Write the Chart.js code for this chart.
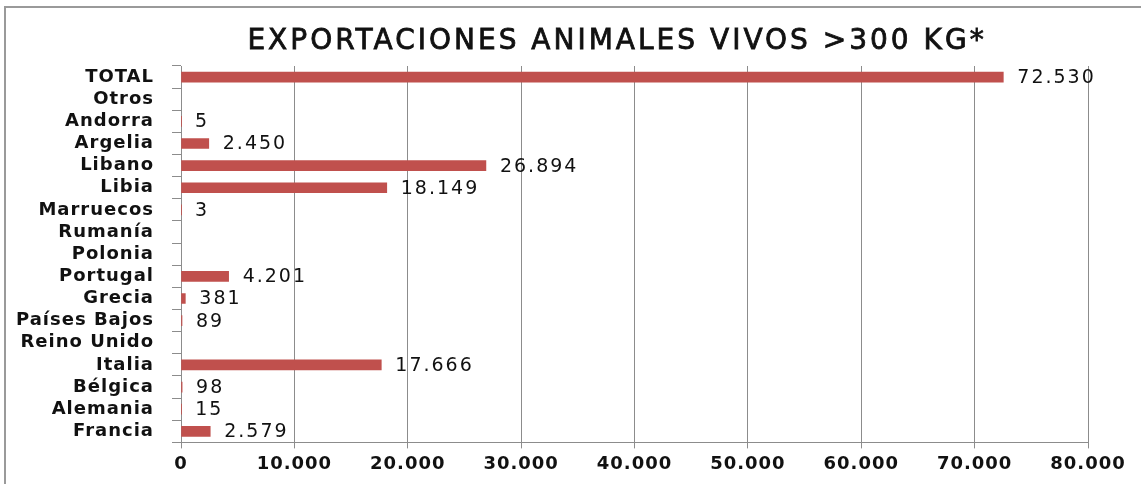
<!DOCTYPE html>
<html>
<head>
<meta charset="utf-8">
<script src="https://cdn.jsdelivr.net/npm/chart.js@4.4.1/dist/chart.umd.min.js"></script>
<style>
  html, body { margin: 0; padding: 0; background: #fff; }
  #wrap { width: 1141px; height: 484px; }
</style>
</head>
<body>
<div id="wrap"><canvas id="chart"></canvas></div>
<script>
const categories = ['TOTAL', 'Otros', 'Andorra', 'Argelia', 'Libano', 'Libia', 'Marruecos', 'Rumanía',
    'Polonia', 'Portugal', 'Grecia', 'Países Bajos', 'Reino Unido', 'Italia', 'Bélgica', 'Alemania', 'Francia'];
const exports = [72530, null, 5, 2450, 26894, 18149, 3, null, null, 4201, 381, 89, null, 17666, 98, 15, 2579];
const xTicks = [0, 10000, 20000, 30000, 40000, 50000, 60000, 70000, 80000];
const titleText = 'EXPORTACIONES ANIMALES VIVOS >300 KG*';

function fmt(v) {
    return String(v).replace(/\B(?=(\d{3})+(?!\d))/g, '.');
}

// a bit of spacing to widen glyphs like the stretched original
const spacing = {
    id: 'spacing',
    beforeUpdate(chart) { chart.ctx.letterSpacing = '1px'; },
    beforeDraw(chart) {
        const ctx = chart.ctx;
        ctx.letterSpacing = '1px';
        ctx.save();
        ctx.strokeStyle = '#9a9a9a';
        ctx.lineWidth = 2;
        ctx.strokeRect(5, 7, 1200, 600);
        ctx.restore();
    }
};

const labelsAndTitle = {
    id: 'labelsAndTitle',
    afterDraw(chart) {
        const ctx = chart.ctx;
        const meta = chart.getDatasetMeta(0);
        ctx.save();
        ctx.letterSpacing = '2px';
        ctx.font = '19px "DejaVu Sans"';
        ctx.fillStyle = '#111';
        ctx.textBaseline = 'middle';
        ctx.textAlign = 'left';
        meta.data.forEach((bar, i) => {
            const v = exports[i];
            if (v === null) return;
            ctx.fillText(fmt(v), bar.x + 14, bar.y + 1);
        });
        // title: regular face thickened a little, semi-bold look
        ctx.letterSpacing = '3px';
        ctx.font = '28px "DejaVu Sans"';
        ctx.textAlign = 'center';
        ctx.strokeStyle = '#111';
        ctx.lineWidth = 0.8;
        ctx.fillText(titleText, 617, 42);
        ctx.strokeText(titleText, 617, 42);
        ctx.restore();
    }
};

const gridColor = '#8c8c8c';

new Chart(document.getElementById('chart'), {
    type: 'bar',
    data: {
        labels: categories,
        datasets: [{
            data: exports,
            backgroundColor: '#C0504D',
            barThickness: 10
        }]
    },
    options: {
        indexAxis: 'y',
        responsive: true,
        maintainAspectRatio: false,
        animation: false,
        layout: { padding: { top: 66, right: 53, bottom: 4, left: 0 } },
        plugins: {
            legend: { display: false },
            tooltip: { enabled: false },
            title: { display: false }
        },
        scales: {
            x: {
                min: 0,
                max: 80000,
                afterBuildTicks(scale) {
                    scale.ticks = xTicks.map(v => ({ value: v }));
                },
                ticks: {
                    color: '#111',
                    font: { family: 'DejaVu Sans', size: 18, weight: 'bold' },
                    padding: 5,
                    maxRotation: 0,
                    callback: v => fmt(v)
                },
                grid: { color: gridColor, tickLength: 6, lineWidth: 1 },
                border: { color: gridColor }
            },
            y: {
                afterFit(scale) { scale.width = 181; },
                ticks: {
                    color: '#111',
                    font: { family: 'DejaVu Sans', size: 18, weight: 'bold' },
                    padding: 18,
                    autoSkip: false
                },
                grid: { drawOnChartArea: false, color: gridColor, tickLength: 9, offset: true },
                border: { color: gridColor }
            }
        }
    },
    plugins: [spacing, labelsAndTitle]
});
</script>
</body>
</html>
